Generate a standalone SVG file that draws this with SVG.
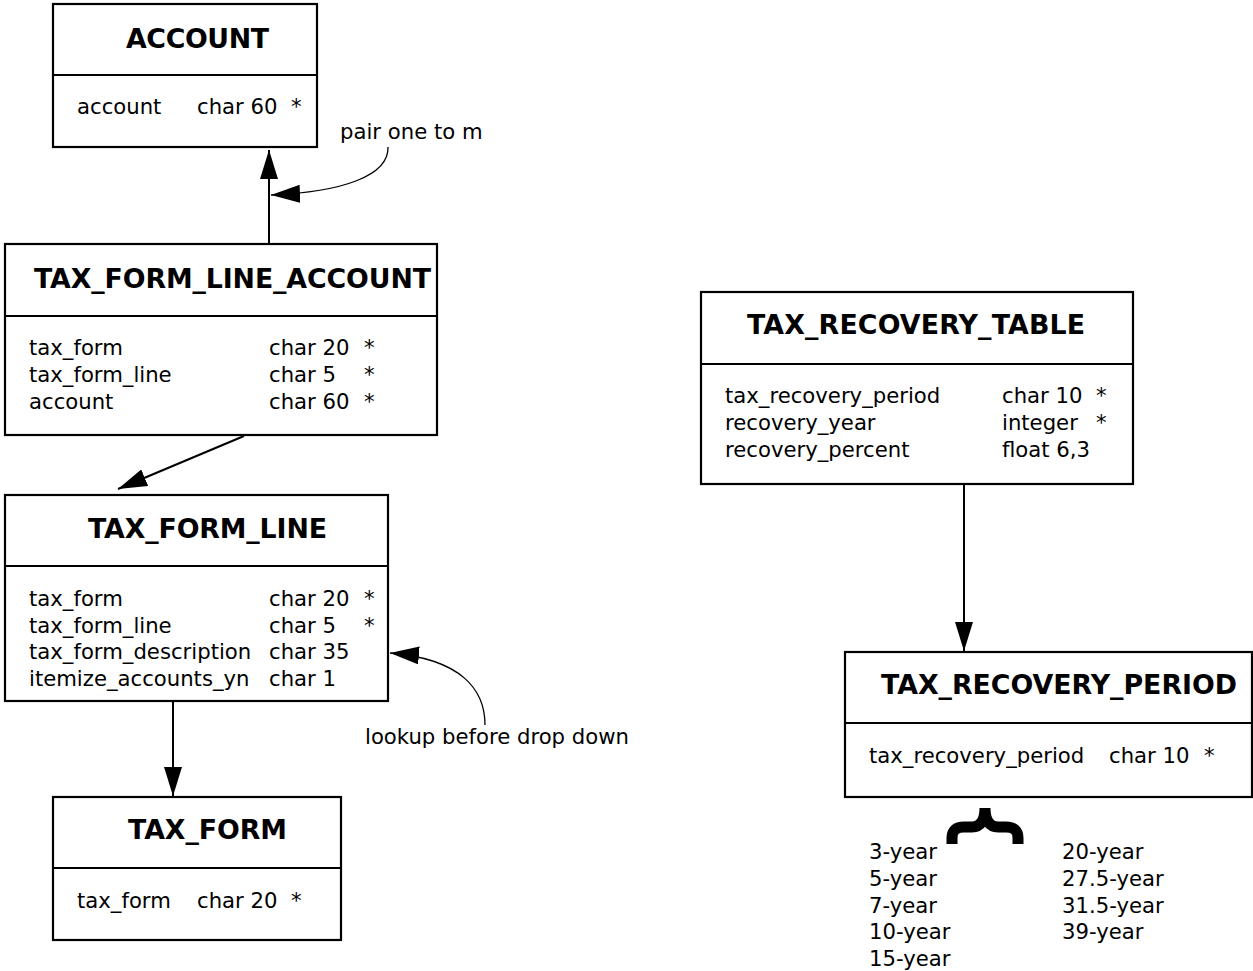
<svg xmlns="http://www.w3.org/2000/svg" width="1253" height="971" viewBox="0 0 1253 971">
<style>
.box{fill:#fff;stroke:#000;stroke-width:2.2}
.div{stroke:#000;stroke-width:2.2}
.t{font-family:"DejaVu Sans",sans-serif;font-weight:bold;font-size:26.8px;fill:#000}
.f{font-family:"DejaVu Sans",sans-serif;font-size:21.2px;fill:#000}
.c{fill:none;stroke:#000;stroke-width:2}
.cv{fill:none;stroke:#000;stroke-width:1.3}
</style>
<defs>
<marker id="ah" markerUnits="userSpaceOnUse" markerWidth="30" markerHeight="18" refX="29" refY="9" orient="auto" viewBox="0 0 30 18">
<path d="M0,0 L29,9 L0,18 z" fill="#000"/>
</marker>
</defs>

<g id="connectors">
<line class="c" x1="269" y1="243" x2="269" y2="150" marker-end="url(#ah)"/>
<path class="cv" d="M 388 147 C 389 176 342 192 271 195" marker-end="url(#ah)"/>
<line class="c" x1="244" y1="436" x2="118" y2="489" marker-end="url(#ah)"/>
<line class="c" x1="173" y1="701" x2="173" y2="796" marker-end="url(#ah)"/>
<path class="cv" d="M 485 725 C 485 690 462 659 390 653" marker-end="url(#ah)"/>
<line class="c" x1="964" y1="485" x2="964" y2="651" marker-end="url(#ah)"/>
<text class="f" x="340" y="139">pair one to m</text>
<text class="f" x="365" y="744">lookup before drop down</text>
</g>

<g id="account">
<rect class="box" x="53" y="4" width="264" height="143"/>
<line class="div" x1="53" y1="75" x2="317" y2="75"/>
<text class="t" x="126" y="48" textLength="143" lengthAdjust="spacing">ACCOUNT</text>
<text class="f" x="77" y="114">account</text>
<text class="f" x="197" y="114">char 60</text>
<text class="f" x="291" y="114">*</text>
</g>

<g id="tax_form_line_account">
<rect class="box" x="5" y="244" width="432" height="191"/>
<line class="div" x1="5" y1="316" x2="437" y2="316"/>
<text class="t" x="34" y="288" textLength="397" lengthAdjust="spacing">TAX_FORM_LINE_ACCOUNT</text>
<text class="f" x="29" y="355">tax_form</text>
<text class="f" x="269" y="355">char 20</text>
<text class="f" x="364" y="355">*</text>
<text class="f" x="29" y="382">tax_form_line</text>
<text class="f" x="269" y="382">char 5</text>
<text class="f" x="364" y="382">*</text>
<text class="f" x="29" y="409">account</text>
<text class="f" x="269" y="409">char 60</text>
<text class="f" x="364" y="409">*</text>
</g>

<g id="tax_form_line">
<rect class="box" x="5" y="495" width="383" height="206"/>
<line class="div" x1="5" y1="566" x2="388" y2="566"/>
<text class="t" x="88" y="538" textLength="239" lengthAdjust="spacing">TAX_FORM_LINE</text>
<text class="f" x="29" y="606">tax_form</text>
<text class="f" x="269" y="606">char 20</text>
<text class="f" x="364" y="606">*</text>
<text class="f" x="29" y="633">tax_form_line</text>
<text class="f" x="269" y="633">char 5</text>
<text class="f" x="364" y="633">*</text>
<text class="f" x="29" y="659">tax_form_description</text>
<text class="f" x="269" y="659">char 35</text>
<text class="f" x="29" y="686">itemize_accounts_yn</text>
<text class="f" x="269" y="686">char 1</text>
</g>

<g id="tax_form">
<rect class="box" x="53" y="797" width="288" height="143"/>
<line class="div" x1="53" y1="868" x2="341" y2="868"/>
<text class="t" x="128" y="839" textLength="159" lengthAdjust="spacing">TAX_FORM</text>
<text class="f" x="77" y="908">tax_form</text>
<text class="f" x="197" y="908">char 20</text>
<text class="f" x="291" y="908">*</text>
</g>

<g id="tax_recovery_table">
<rect class="box" x="701" y="292" width="432" height="192"/>
<line class="div" x1="701" y1="364" x2="1133" y2="364"/>
<text class="t" x="747" y="334" textLength="338" lengthAdjust="spacing">TAX_RECOVERY_TABLE</text>
<text class="f" x="725" y="403">tax_recovery_period</text>
<text class="f" x="1002" y="403">char 10</text>
<text class="f" x="1096" y="403">*</text>
<text class="f" x="725" y="430">recovery_year</text>
<text class="f" x="1002" y="430">integer</text>
<text class="f" x="1096" y="430">*</text>
<text class="f" x="725" y="457">recovery_percent</text>
<text class="f" x="1002" y="457">float 6,3</text>
</g>

<g id="tax_recovery_period">
<rect class="box" x="845" y="652" width="407" height="145"/>
<line class="div" x1="845" y1="723" x2="1252" y2="723"/>
<text class="t" x="881" y="694" textLength="356" lengthAdjust="spacing">TAX_RECOVERY_PERIOD</text>
<text class="f" x="869" y="763">tax_recovery_period</text>
<text class="f" x="1109" y="763">char 10</text>
<text class="f" x="1204" y="763">*</text>
</g>

<g id="period_values">
<path d="M 952 844 L 952 838 Q 952 827 964 827 L 972 827 Q 985 827 985 808 Q 985 827 998 827 L 1006 827 Q 1018 827 1018 838 L 1018 844" fill="none" stroke="#000" stroke-width="11"/>
<text class="f" x="869" y="859">3-year</text>
<text class="f" x="869" y="886">5-year</text>
<text class="f" x="869" y="913">7-year</text>
<text class="f" x="869" y="939">10-year</text>
<text class="f" x="869" y="966">15-year</text>
<text class="f" x="1062" y="859">20-year</text>
<text class="f" x="1062" y="886">27.5-year</text>
<text class="f" x="1062" y="913">31.5-year</text>
<text class="f" x="1062" y="939">39-year</text>
</g>
</svg>
